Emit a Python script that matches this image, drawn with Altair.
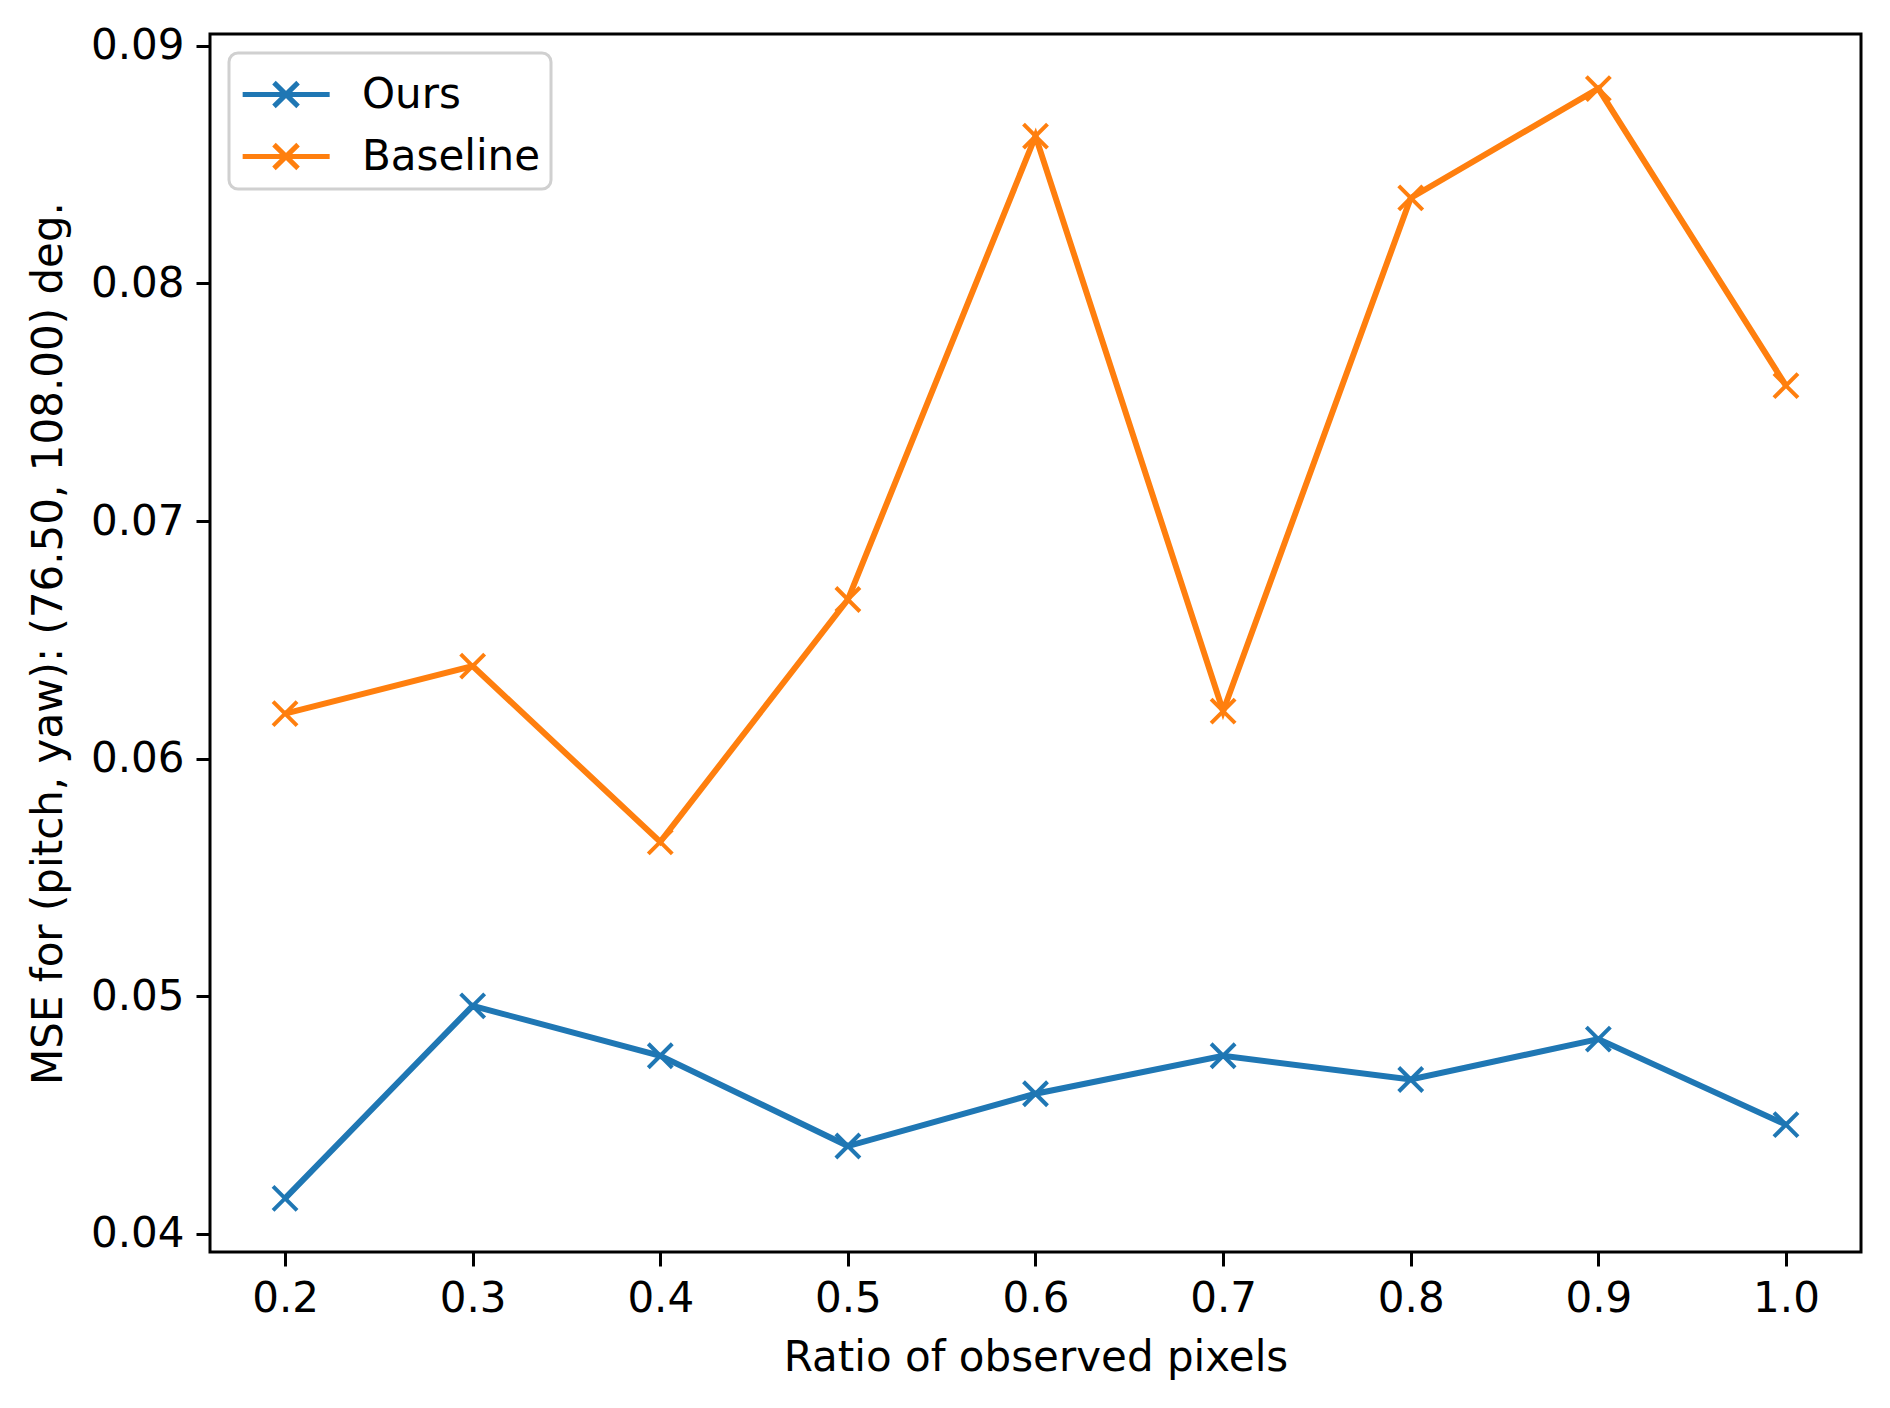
import altair as alt
import pandas as pd

ratios = [0.2, 0.3, 0.4, 0.5, 0.6, 0.7, 0.8, 0.9, 1.0]
ours = [0.0415, 0.0496, 0.0475, 0.0437, 0.0459, 0.0475, 0.0465, 0.0482, 0.0446]
baseline = [0.0619, 0.0639, 0.0565, 0.0667, 0.0862, 0.0620, 0.0836, 0.0882, 0.0757]
series_names = ["Ours", "Baseline"]
series_colors = ["#1f77b4", "#ff7f0e"]
x_ticks = [0.2, 0.3, 0.4, 0.5, 0.6, 0.7, 0.8, 0.9, 1.0]
y_ticks = [0.04, 0.05, 0.06, 0.07, 0.08, 0.09]

rows = []
for name, vals in zip(series_names, [ours, baseline]):
    for r, v in zip(ratios, vals):
        rows.append({"ratio": r, "mse": v, "series": name})
df = pd.DataFrame(rows)

FONT = "DejaVu Sans"
FS = 42

x = alt.X("ratio:Q", title="Ratio of observed pixels",
          scale=alt.Scale(domain=[0.16, 1.04], nice=False, zero=False),
          axis=alt.Axis(values=x_ticks, format=".1f", grid=False, domain=False,
                        tickSize=14, tickWidth=3, tickColor="black",
                        labelPadding=12, labelFontSize=FS, labelFont=FONT, labelColor="black",
                        titleFontSize=FS, titleFont=FONT, titleFontWeight="normal",
                        titleColor="black", titlePadding=18, labelFlush=False))
y = alt.Y("mse:Q", title="MSE for (pitch, yaw): (76.50, 108.00) deg.",
          scale=alt.Scale(domain=[0.03924, 0.0905], nice=False, zero=False),
          axis=alt.Axis(values=y_ticks, format=".2f", grid=False, domain=False,
                        tickSize=14, tickWidth=3, tickColor="black",
                        labelPadding=12, labelFontSize=FS, labelFont=FONT, labelColor="black",
                        titleFontSize=FS, titleFont=FONT, titleFontWeight="normal",
                        titleColor="black", titlePadding=20, labelFlush=False))

color = alt.Color("series:N", scale=alt.Scale(domain=series_names, range=series_colors),
                  legend=alt.Legend(
                      title=None, orient="none", legendX=19, legendY=19,
                      symbolType="M-0.96,0H2.04M0.12,-0.41L0.95,0.41M0.12,0.41L0.95,-0.41",
                      symbolSize=3364, symbolStrokeWidth=5, symbolFillColor="transparent",
                      labelFontSize=FS, labelFont=FONT, labelColor="black", labelOffset=60,
                      padding=10, rowPadding=8, fillColor="rgba(255,255,255,0.8)",
                      strokeColor="#d0d0d0", cornerRadius=9, labelLimit=400))

line = alt.Chart(df).mark_line(strokeWidth=6).encode(x=x, y=y, color=color)
pts = alt.Chart(df).mark_point(shape="M-1,-1L1,1M-1,1L1,-1", size=576, filled=False,
                               strokeWidth=4, opacity=1).encode(
    x=x, y=y, color=alt.Color("series:N", scale=alt.Scale(domain=series_names, range=series_colors),
                              legend=None))

chart = alt.layer(line, pts).properties(
    width=1651, height=1218,
    autosize=alt.AutoSizeParams(type="none"),
    padding={"left": 202, "top": 26, "right": 14, "bottom": 148},
    background="white",
).configure_view(stroke="black", strokeWidth=3).configure_legend(strokeWidth=3)

chart.save("out.html", embed_options={"renderer": "svg", "actions": False})
